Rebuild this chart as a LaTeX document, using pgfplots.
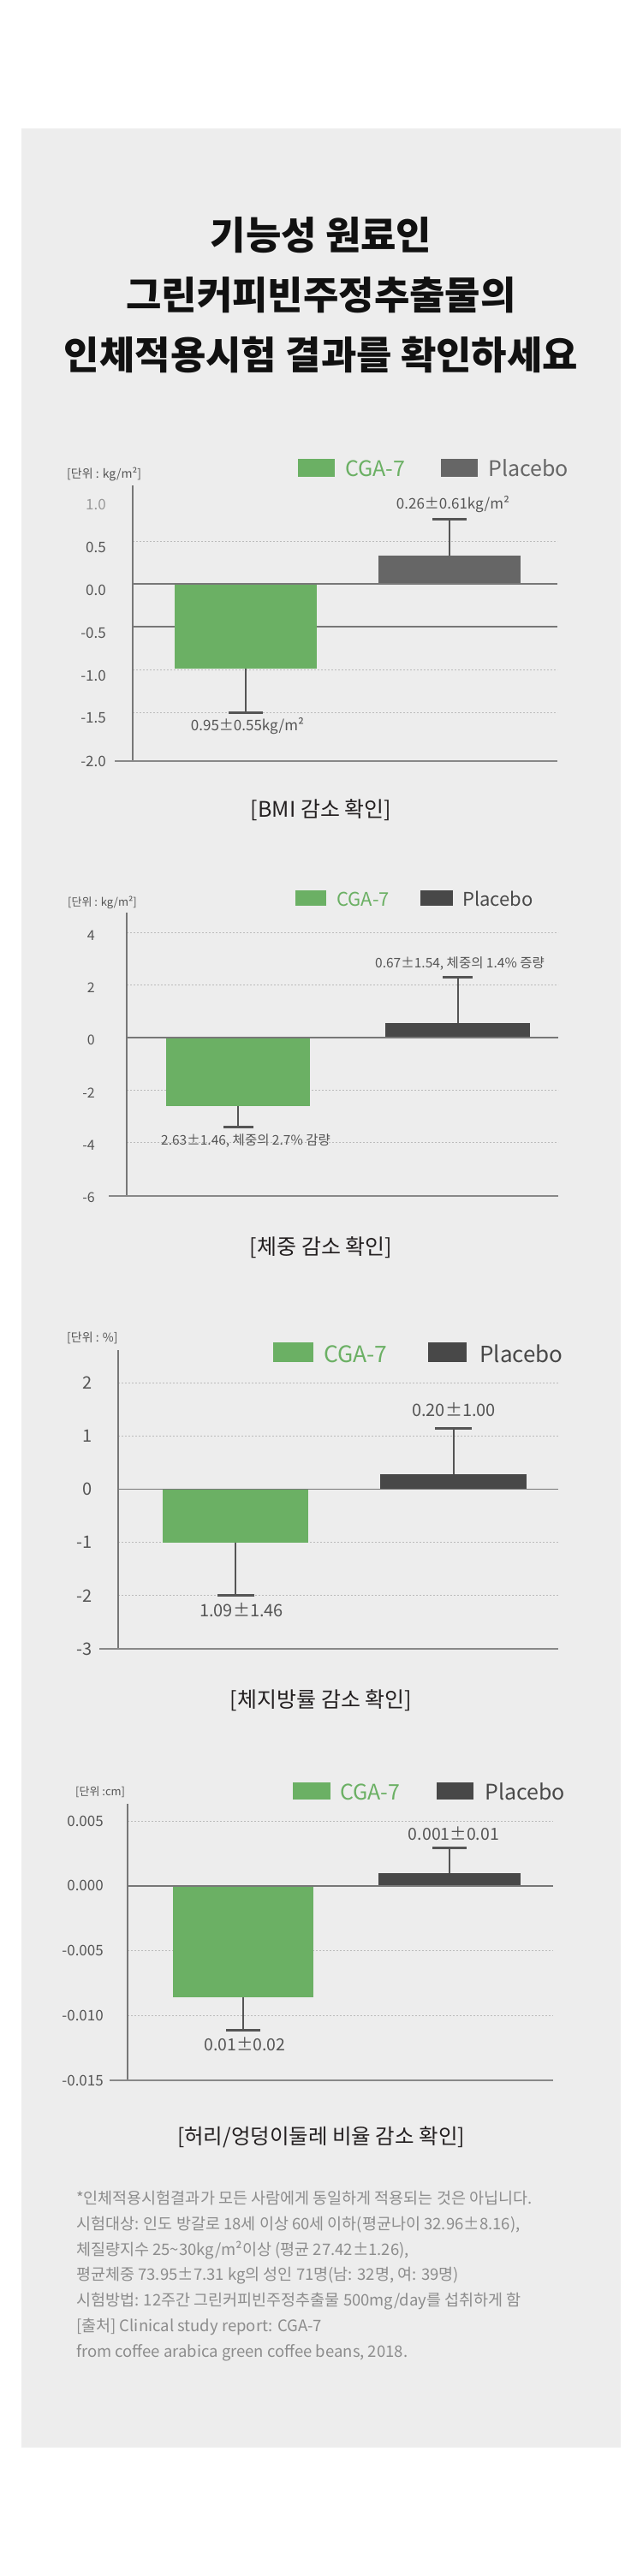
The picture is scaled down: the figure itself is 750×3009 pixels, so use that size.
\documentclass[border=0pt]{standalone}
\usepackage{pgfplots}
\pgfplotsset{compat=1.18}
\usepackage{fontspec}
\setmainfont{Noto Sans CJK KR}
\definecolor{panel}{HTML}{EDEDED}
\definecolor{cgreen}{HTML}{6BB064}
\definecolor{cplacA}{HTML}{666666}
\definecolor{cplac}{HTML}{484848}
\definecolor{cerr}{HTML}{555555}
\definecolor{ctick}{HTML}{555555}
\definecolor{ctickl}{HTML}{999999}
\definecolor{cgrid}{HTML}{BBBBBB}
\definecolor{caxis}{HTML}{777777}
\definecolor{cbase}{HTML}{888888}
\definecolor{cfoot}{HTML}{8C8C8C}
\definecolor{ccap}{HTML}{231F20}
\definecolor{ctitle}{HTML}{111111}
\pgfplotsset{
  chart/.style={scale only axis, anchor=south west, clip=false,
    axis line style={draw=none}, xtick=\empty, major tick length=0pt,
    scaled y ticks=false, xmin=0},
  mybar/.style n args={4}{ybar, bar width=#1, bar shift=0pt, fill=#2, draw=none,
    error bars/.cd, y dir=#3, y explicit, error mark=|,
    error bar style={line width=2pt, draw=cerr},
    error mark options={line width=3pt, draw=cerr, mark size=#4}},
}
\tikzset{grd/.style={cgrid, line width=1pt, dash pattern=on 2pt off 2pt},
  zl/.style={caxis, line width=1.5pt}}
\newcommand{\fs}[1]{\fontsize{#1}{#1}\selectfont}
\begin{document}
\begin{tikzpicture}
\fill[white] (0,0) rectangle (750pt,-3009pt);
\fill[panel] (25pt,-150pt) rectangle (725pt,-2859pt);
% title
\node[anchor=base, font=\bfseries\fs{45}, text=ctitle] at (375pt,-291pt) {기능성 원료인};
\node[anchor=base, font=\bfseries\fs{45}, text=ctitle] at (375pt,-361pt) {그린커피빈주정추출물의};
\node[anchor=base, font=\bfseries\fs{45}, text=ctitle] at (375pt,-431pt) {인체적용시험 결과를 확인하세요};

% ================= chart 1 : BMI
\fill[cgreen] (348pt,-536pt) rectangle (391pt,-557pt);
\node[anchor=base west, font=\fs{25}, text=cgreen, inner sep=0pt] at (403pt,-556pt) {CGA-7};
\fill[cplacA] (515pt,-536pt) rectangle (558pt,-557pt);
\node[anchor=base west, font=\fs{25}, text=cplacA, inner sep=0pt] at (570pt,-556pt) {Placebo};
\node[anchor=base west, font=\fs{14}, text=ctick, inner sep=0pt] at (78pt,-558pt) {[단위 : kg/m²]};
\begin{axis}[chart, at={(155pt,-889pt)}, width=496pt, height=322pt,
  xmax=496, ymin=-2.07, ymax=1.15,
  ytick={-2,-1.5,-1,-0.5,0,0.5,1},
  yticklabels={-2.0,-1.5,-1.0,-0.5,0.0,0.5,\textcolor{ctickl}{1.0}},
  yticklabel style={font=\fs{17}, text=ctick, anchor=east, inner sep=0pt, xshift=-31pt, yshift=-7pt}]
  \draw[grd] (axis cs:0,0.5) -- (axis cs:496,0.5);
  \draw[grd] (axis cs:0,-1) -- (axis cs:496,-1);
  \draw[grd] (axis cs:0,-1.5) -- (axis cs:496,-1.5);
  \draw[zl] (axis cs:0,-0.5) -- (axis cs:496,-0.5);
  \addplot[mybar={166}{cgreen}{minus}{20pt}] coordinates {(132,-0.99) +- (0,0.51)};
  \addplot[mybar={166}{cplacA}{plus}{20pt}] coordinates {(370,0.33) +- (0,0.43)};
  \draw[zl] (axis cs:0,0) -- (axis cs:496,0);
  \draw[caxis, line width=1.5pt] (rel axis cs:0,0) -- (rel axis cs:0,1);
  \draw[cbase, line width=2pt] ([xshift=-21pt]rel axis cs:0,0) -- (rel axis cs:1,0);
\end{axis}
\node[font=\fs{17}, text=ctick] at (529pt,-589pt) {0.26±0.61kg/m²};
\node[font=\fs{17}, text=ctick] at (289pt,-848pt) {0.95±0.55kg/m²};
\node[anchor=base, font=\fs{25}, text=ccap] at (375pt,-954pt) {[BMI 감소 확인]};

% ================= chart 2 : weight
\fill[cgreen] (345pt,-1040pt) rectangle (381pt,-1058pt);
\node[anchor=base west, font=\fs{22}, text=cgreen, inner sep=0pt] at (393pt,-1058pt) {CGA-7};
\fill[cplac] (491pt,-1040pt) rectangle (529pt,-1058pt);
\node[anchor=base west, font=\fs{22}, text=cplac, inner sep=0pt] at (540pt,-1058pt) {Placebo};
\node[anchor=base west, font=\fs{13}, text=ctick, inner sep=0pt] at (79pt,-1058pt) {[단위 : kg/m²]};
\begin{axis}[chart, at={(148pt,-1397pt)}, width=504pt, height=331pt,
  xmax=504, ymin=-6.03, ymax=4.76,
  ytick={-6,-4,-2,0,2,4},
  yticklabels={-6,-4,-2,0,2,4},
  yticklabel style={font=\fs{16}, text=ctick, anchor=east, inner sep=0pt, xshift=-37pt, yshift=-3pt}]
  \draw[grd] (axis cs:0,4) -- (axis cs:504,4);
  \draw[grd] (axis cs:0,2) -- (axis cs:504,2);
  \draw[grd] (axis cs:0,-2) -- (axis cs:504,-2);
  \draw[grd] (axis cs:0,-4) -- (axis cs:504,-4);
  \addplot[mybar={168}{cgreen}{minus}{17.5pt}] coordinates {(130,-2.6) +- (0,0.82)};
  \addplot[mybar={169}{cplac}{plus}{17.5pt}] coordinates {(386.5,0.55) +- (0,1.76)};
  \draw[zl] (axis cs:0,0) -- (axis cs:504,0);
  \draw[caxis, line width=1.5pt] (rel axis cs:0,0) -- (rel axis cs:0,1);
  \draw[cbase, line width=2pt] ([xshift=-21pt]rel axis cs:0,0) -- (rel axis cs:1,0);
\end{axis}
\node[font=\fs{15.5}, text=ctick] at (537pt,-1126pt) {0.67±1.54, 체중의 1.4\% 증량};
\node[font=\fs{15.5}, text=ctick] at (287pt,-1333pt) {2.63±1.46, 체중의 2.7\% 감량};
\node[anchor=base, font=\fs{25}, text=ccap] at (375pt,-1465pt) {[체중 감소 확인]};

% ================= chart 3 : body fat
\fill[cgreen] (319pt,-1568pt) rectangle (366pt,-1591pt);
\node[anchor=base west, font=\fs{26.5}, text=cgreen, inner sep=0pt] at (378pt,-1591pt) {CGA-7};
\fill[cplac] (500pt,-1568pt) rectangle (545pt,-1591pt);
\node[anchor=base west, font=\fs{26}, text=cplac, inner sep=0pt] at (560pt,-1591pt) {Placebo};
\node[anchor=base west, font=\fs{14}, text=ctick, inner sep=0pt] at (78pt,-1567pt) {[단위 : \%]};
\begin{axis}[chart, at={(138pt,-1926pt)}, width=514pt, height=349pt,
  xmax=514, ymin=-3.0, ymax=2.62,
  ytick={-3,-2,-1,0,1,2},
  yticklabels={-3,-2,-1,0,1,2},
  yticklabel style={font=\fs{20}, text=ctick, anchor=east, inner sep=0pt, xshift=-30pt}]
  \draw[grd] (axis cs:0,2) -- (axis cs:514,2);
  \draw[grd] (axis cs:0,1) -- (axis cs:514,1);
  \draw[grd] (axis cs:0,-1) -- (axis cs:514,-1);
  \draw[grd] (axis cs:0,-2) -- (axis cs:514,-2);
  \addplot[mybar={170}{cgreen}{minus}{21.5pt}] coordinates {(137,-1.0) +- (0,1.0)};
  \addplot[mybar={171}{cplac}{plus}{21.5pt}] coordinates {(391.5,0.29) +- (0,0.85)};
  \draw[zl] (axis cs:0,0) -- (axis cs:514,0);
  \draw[caxis, line width=1.5pt] (rel axis cs:0,0) -- (rel axis cs:0,1);
  \draw[cbase, line width=2pt] ([xshift=-22pt]rel axis cs:0,0) -- (rel axis cs:1,0);
\end{axis}
\node[font=\fs{20}, text=ctick] at (530pt,-1647pt) {0.20±1.00};
\node[font=\fs{20}, text=ctick] at (282pt,-1881pt) {1.09±1.46};
\node[anchor=base, font=\fs{25}, text=ccap] at (375pt,-1994pt) {[체지방률 감소 확인]};

% ================= chart 4 : waist/hip
\fill[cgreen] (342pt,-2082pt) rectangle (386pt,-2102pt);
\node[anchor=base west, font=\fs{25}, text=cgreen, inner sep=0pt] at (397pt,-2102pt) {CGA-7};
\fill[cplac] (510pt,-2082pt) rectangle (553pt,-2102pt);
\node[anchor=base west, font=\fs{25}, text=cplac, inner sep=0pt] at (566pt,-2102pt) {Placebo};
\node[anchor=base west, font=\fs{13}, text=ctick, inner sep=0pt] at (88pt,-2097pt) {[단위 :cm]};
\begin{axis}[chart, at={(149pt,-2430pt)}, width=497pt, height=323pt,
  xmax=497, ymin=-0.015, ymax=0.00632,
  ytick={-0.015,-0.01,-0.005,0,0.005},
  yticklabels={-0.015,-0.010,-0.005,0.000,0.005},
  yticklabel style={font=\fs{17}, text=ctick, anchor=east, inner sep=0pt, xshift=-28pt}]
  \draw[grd] (axis cs:0,0.005) -- (axis cs:497,0.005);
  \draw[grd] (axis cs:0,-0.005) -- (axis cs:497,-0.005);
  \draw[grd] (axis cs:0,-0.01) -- (axis cs:497,-0.01);
  \addplot[mybar={164}{cgreen}{minus}{20pt}] coordinates {(135,-0.00862) +- (0,0.0025)};
  \addplot[mybar={166}{cplac}{plus}{20pt}] coordinates {(376,0.00099) +- (0,0.0019)};
  \draw[zl] (axis cs:0,0) -- (axis cs:497,0);
  \draw[caxis, line width=1.5pt] (rel axis cs:0,0) -- (rel axis cs:0,1);
  \draw[cbase, line width=2pt] ([xshift=-21pt]rel axis cs:0,0) -- (rel axis cs:1,0);
\end{axis}
\node[font=\fs{19.5}, text=ctick] at (530pt,-2142pt) {0.001±0.01};
\node[font=\fs{19.5}, text=ctick] at (286pt,-2388pt) {0.01±0.02};
\node[anchor=base, font=\fs{24.5}, text=ccap] at (375pt,-2504pt) {[허리/엉덩이둘레 비율 감소 확인]};

% ================= footnotes
\begin{scope}[every node/.style={anchor=base west, font=\fs{18.5}, text=cfoot, inner sep=0pt}]
\node at (89pt,-2574pt) {*인체적용시험결과가 모든 사람에게 동일하게 적용되는 것은 아닙니다.};
\node at (89pt,-2604pt) {시험대상: 인도 방갈로 18세 이상 60세 이하(평균나이 32.96±8.16),};
\node at (89pt,-2634pt) {체질량지수 25\textasciitilde 30kg/m²이상 (평균 27.42±1.26),};
\node at (89pt,-2663pt) {평균체중 73.95±7.31 kg의 성인 71명(남: 32명, 여: 39명)};
\node at (89pt,-2693pt) {시험방법: 12주간 그린커피빈주정추출물 500mg/day를 섭취하게 함};
\node at (89pt,-2723pt) {[출처] Clinical study report: CGA-7};
\node at (89pt,-2753pt) {from coffee arabica green coffee beans, 2018.};
\end{scope}
\end{tikzpicture}
\end{document}
